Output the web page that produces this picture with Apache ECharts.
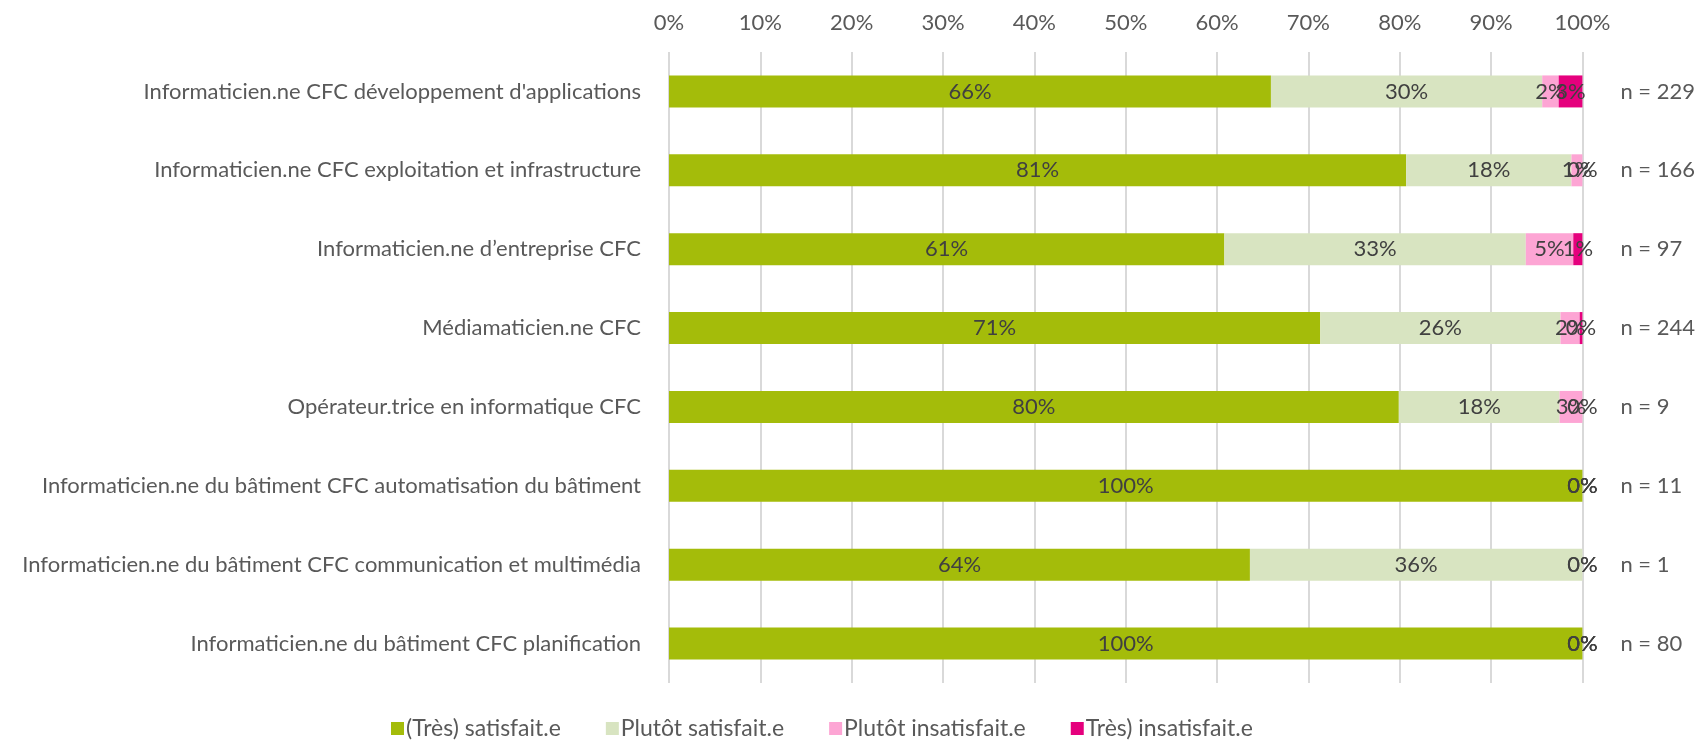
<!DOCTYPE html>
<html>
<head>
<meta charset="utf-8">
<script src="https://cdn.jsdelivr.net/npm/echarts@6/dist/echarts.min.js"></script>
<style>
  html, body { margin: 0; padding: 0; background: #fff; }
  #chart { width: 1698px; height: 745px; }
</style>
</head>
<body>
<div id="chart"></div>
<script>
const categories = [
  "Informaticien.ne CFC développement d'applications",
  "Informaticien.ne CFC exploitation et infrastructure",
  "Informaticien.ne d’entreprise CFC",
  "Médiamaticien.ne CFC",
  "Opérateur.trice en informatique CFC",
  "Informaticien.ne du bâtiment CFC automatisation du bâtiment",
  "Informaticien.ne du bâtiment CFC communication et multimédia",
  "Informaticien.ne du bâtiment CFC planification",
];
const sampleSizes = ["n = 229", "n = 166", "n = 97", "n = 244", "n = 9", "n = 11", "n = 1", "n = 80"];

const tresSatisfait = [65.9, 80.7, 60.8, 71.3, 79.9, 100, 63.6, 100];
const plutotSatisfait = [29.7, 18.1, 33.0, 26.3, 17.6, 0, 36.4, 0];
const plutotInsatisfait = [1.8, 1.2, 5.2, 2.1, 2.5, 0, 0, 0];
const tresInsatisfait = [2.6, 0, 1.0, 0.3, 0, 0, 0, 0];

const seriesNames = ["(Très) satisfait.e", "Plutôt satisfait.e", "Plutôt insatisfait.e", "Très) insatisfait.e"];
const colors = ["#A4BC0A", "#D8E4C1", "#FDA5D4", "#E5007D"];

const FONT = "Lato";
const FS = 22;
const chart = echarts.init(document.getElementById("chart"));

function barSeries(name, data, color) {
  return {
    name,
    type: "bar",
    stack: "total",
    barWidth: 32,
    data,
    itemStyle: { color },
    label: {
      show: true,
      position: "inside",
      color: "#404040",
      fontFamily: FONT,
      fontSize: FS,
      formatter: (p) => Math.round(p.value) + "%",
    },
  };
}

chart.setOption({
  animation: false,
  grid: { left: 669, right: 114, top: 52, bottom: 62 },
  legend: {
    left: 386,
    bottom: 0,
    itemWidth: 13,
    itemHeight: 13,
    itemGap: 45,
    icon: "rect",
    textStyle: { color: "#595959", fontFamily: FONT, fontSize: 23, padding: [0, 0, 0, -3] },
    data: seriesNames,
  },
  xAxis: {
    type: "value",
    position: "top",
    min: 0,
    max: 100,
    interval: 10,
    axisLine: { show: false },
    axisTick: { show: false },
    axisLabel: { color: "#595959", fontFamily: FONT, fontSize: FS, margin: 18, formatter: "{value}%" },
    splitLine: { lineStyle: { color: "#D9D9D9", width: 2 } },
  },
  yAxis: [
    {
      type: "category",
      data: categories,
      inverse: true,
      axisLine: { show: false },
      axisTick: { show: false },
      axisLabel: { color: "#595959", fontFamily: FONT, fontSize: FS, margin: 28 },
    },
    {
      type: "category",
      data: sampleSizes,
      inverse: true,
      position: "right",
      axisLine: { show: false },
      axisTick: { show: false },
      axisLabel: { color: "#595959", fontFamily: FONT, fontSize: FS, margin: 38, align: "left" },
    },
  ],
  series: [
    barSeries(seriesNames[0], tresSatisfait, colors[0]),
    barSeries(seriesNames[1], plutotSatisfait, colors[1]),
    barSeries(seriesNames[2], plutotInsatisfait, colors[2]),
    barSeries(seriesNames[3], tresInsatisfait, colors[3]),
  ],
});
</script>
</body>
</html>
